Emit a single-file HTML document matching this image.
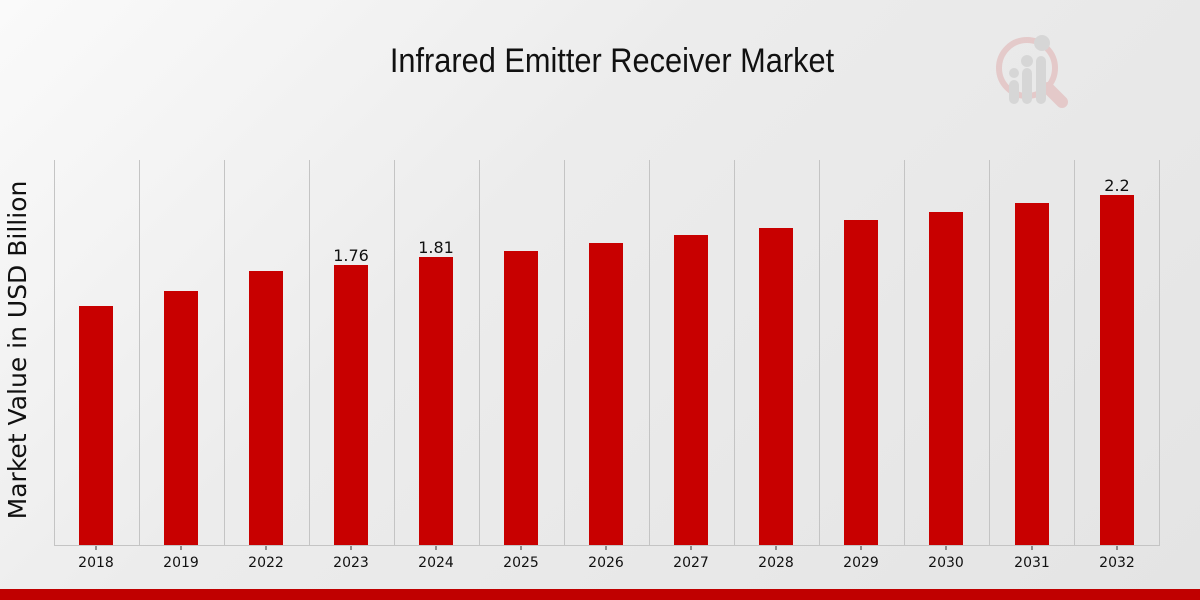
<!DOCTYPE html>
<html><head><meta charset="utf-8"><style>
html,body{margin:0;padding:0;}
body{width:1200px;height:600px;overflow:hidden;background:linear-gradient(135deg,#fafafa 0%,#ececec 40%,#e4e4e4 100%);font-family:"DejaVu Sans","Liberation Sans",sans-serif;}
</style></head><body>
<svg width="1200" height="600" xmlns="http://www.w3.org/2000/svg" style="position:absolute;left:0;top:0">
<text x="612" y="72" text-anchor="middle" font-family="'Liberation Sans',sans-serif" font-size="34" fill="#111" transform="translate(612 0) scale(0.905 1) translate(-612 0)">Infrared Emitter Receiver Market</text>
<g opacity="0.55">
<circle cx="1027" cy="68" r="28" fill="none" stroke="#e0b0b0" stroke-width="6"/>
<line x1="1048" y1="88" x2="1062" y2="102" stroke="#e0b0b0" stroke-width="12" stroke-linecap="round"/>
<rect x="1009" y="80" width="10" height="24" rx="5" fill="#c8c8c8"/>
<rect x="1022" y="68" width="10" height="36" rx="5" fill="#c8c8c8"/>
<rect x="1036" y="56" width="10" height="48" rx="5" fill="#c8c8c8"/>
<circle cx="1014" cy="73" r="5" fill="#c8c8c8"/><circle cx="1027" cy="61" r="6" fill="#c8c8c8"/><circle cx="1042" cy="43" r="8" fill="#c8c8c8"/>
</g>
<g stroke="#c4c4c4" stroke-width="1">
<line x1="54.5" y1="160" x2="54.5" y2="545"/><line x1="139.5" y1="160" x2="139.5" y2="545"/><line x1="224.5" y1="160" x2="224.5" y2="545"/><line x1="309.5" y1="160" x2="309.5" y2="545"/><line x1="394.5" y1="160" x2="394.5" y2="545"/><line x1="479.5" y1="160" x2="479.5" y2="545"/><line x1="564.5" y1="160" x2="564.5" y2="545"/><line x1="649.5" y1="160" x2="649.5" y2="545"/><line x1="734.5" y1="160" x2="734.5" y2="545"/><line x1="819.5" y1="160" x2="819.5" y2="545"/><line x1="904.5" y1="160" x2="904.5" y2="545"/><line x1="989.5" y1="160" x2="989.5" y2="545"/><line x1="1074.5" y1="160" x2="1074.5" y2="545"/><line x1="1159.5" y1="160" x2="1159.5" y2="545"/>
<line x1="54" y1="545.5" x2="1160" y2="545.5"/>
</g>
<g fill="#c80000">
<rect x="79" y="306" width="34" height="239"/><rect x="164" y="291" width="34" height="254"/><rect x="249" y="271" width="34" height="274"/><rect x="334" y="265" width="34" height="280"/><rect x="419" y="257" width="34" height="288"/><rect x="504" y="251" width="34" height="294"/><rect x="589" y="243" width="34" height="302"/><rect x="674" y="235" width="34" height="310"/><rect x="759" y="228" width="34" height="317"/><rect x="844" y="220" width="34" height="325"/><rect x="929" y="212" width="34" height="333"/><rect x="1015" y="203" width="34" height="342"/><rect x="1100" y="195" width="34" height="350"/>
</g>
<g stroke="#333" stroke-width="1">
<line x1="96" y1="546" x2="96" y2="550"/><line x1="181" y1="546" x2="181" y2="550"/><line x1="266" y1="546" x2="266" y2="550"/><line x1="351" y1="546" x2="351" y2="550"/><line x1="436" y1="546" x2="436" y2="550"/><line x1="521" y1="546" x2="521" y2="550"/><line x1="606" y1="546" x2="606" y2="550"/><line x1="691" y1="546" x2="691" y2="550"/><line x1="776" y1="546" x2="776" y2="550"/><line x1="861" y1="546" x2="861" y2="550"/><line x1="946" y1="546" x2="946" y2="550"/><line x1="1032" y1="546" x2="1032" y2="550"/><line x1="1117" y1="546" x2="1117" y2="550"/>
</g>
<g font-size="14" fill="#111" text-anchor="middle">
<text x="96" y="567">2018</text><text x="181" y="567">2019</text><text x="266" y="567">2022</text><text x="351" y="567">2023</text><text x="436" y="567">2024</text><text x="521" y="567">2025</text><text x="606" y="567">2026</text><text x="691" y="567">2027</text><text x="776" y="567">2028</text><text x="861" y="567">2029</text><text x="946" y="567">2030</text><text x="1032" y="567">2031</text><text x="1117" y="567">2032</text>
</g>
<g font-size="16" fill="#111" text-anchor="middle">
<text x="351" y="261">1.76</text><text x="436" y="253">1.81</text><text x="1117" y="191">2.2</text>
</g>
<text x="0" y="0" font-size="25" fill="#111" text-anchor="middle" transform="translate(26 350) rotate(-90)">Market Value in USD Billion</text>
<rect x="0" y="589" width="1200" height="11" fill="#c00000"/>
</svg>
</body></html>
